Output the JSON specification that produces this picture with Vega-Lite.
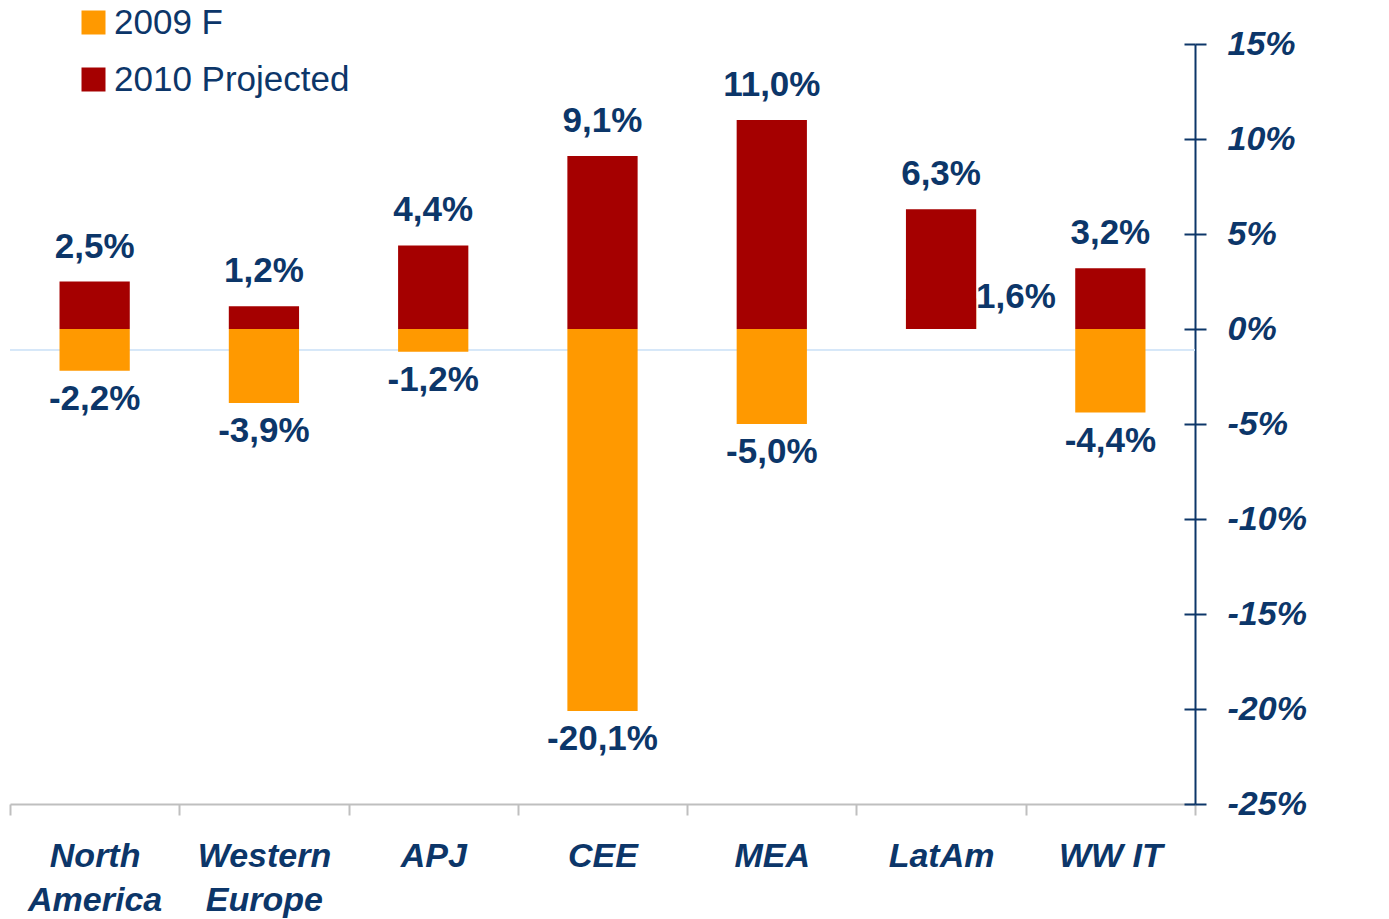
{
  "$schema": "https://vega.github.io/schema/vega-lite/v6.json",
  "autosize": {"type": "none"},
  "width": 1185,
  "height": 760,
  "padding": {"left": 10, "top": 44, "right": 194, "bottom": 115},
  "background": "white",
  "config": {
    "view": {"stroke": null},
    "font": "Liberation Sans",
    "locale": {"number": {"decimal": ",", "thousands": ".", "grouping": [3], "currency": ["", " €"], "minus": "-"}}
  },
  "data": {"values": [
    {"region": "North America", "series": "2009 F", "value": -0.022},
    {"region": "Western Europe", "series": "2009 F", "value": -0.039},
    {"region": "APJ", "series": "2009 F", "value": -0.012},
    {"region": "CEE", "series": "2009 F", "value": -0.201},
    {"region": "MEA", "series": "2009 F", "value": -0.050},
    {"region": "LatAm", "series": "2009 F", "value": 0.016},
    {"region": "WW IT", "series": "2009 F", "value": -0.044},
    {"region": "North America", "series": "2010 Projected", "value": 0.025},
    {"region": "Western Europe", "series": "2010 Projected", "value": 0.012},
    {"region": "APJ", "series": "2010 Projected", "value": 0.044},
    {"region": "CEE", "series": "2010 Projected", "value": 0.091},
    {"region": "MEA", "series": "2010 Projected", "value": 0.110},
    {"region": "LatAm", "series": "2010 Projected", "value": 0.063},
    {"region": "WW IT", "series": "2010 Projected", "value": 0.032}
  ]},
  "layer": [
    {
      "mark": {"type": "rule", "color": "#D6E7F8", "strokeWidth": 1},
      "encoding": {
        "y": {
          "datum": -0.011, "type": "quantitative",
          "axis": {
            "orient": "left", "offset": -1185, "labels": false, "domain": false, "grid": false, "title": null,
            "values": [-0.25, -0.2, -0.15, -0.1, -0.05, 0, 0.05, 0.1, 0.15],
            "tickColor": "#0E3768", "tickWidth": 2, "tickSize": 11
          }
        }
      }
    },
    {
      "mark": {"type": "bar", "width": {"band": 0.415}},
      "encoding": {
        "x": {
          "field": "region", "type": "nominal", "sort": null,
          "scale": {"paddingInner": 0, "paddingOuter": 0},
          "axis": {
            "title": null, "labelAngle": 0,
            "domainColor": "#BFBFBF", "domainWidth": 2,
            "tickColor": "#BFBFBF", "tickWidth": 2, "tickSize": 11, "tickBand": "extent",
            "labelFont": "Liberation Sans", "labelFontSize": 34, "labelFontWeight": "bold", "labelFontStyle": "italic",
            "labelColor": "#0C3669", "labelPadding": 24, "labelLineHeight": 44, "labelBaseline": "top",
            "labelExpr": "!isString(datum.value) ? '' : (datum.value == 'WW IT' ? 'WW IT' : split(datum.value, ' '))"
          }
        },
        "y": {
          "field": "value", "type": "quantitative", "stack": null,
          "scale": {"domain": [-0.25, 0.15], "nice": false},
          "axis": {
            "orient": "right", "title": null, "grid": false, "format": ".0%",
            "values": [-0.25, -0.2, -0.15, -0.1, -0.05, 0, 0.05, 0.1, 0.15],
            "domainColor": "#0C3669", "domainWidth": 2,
            "tickColor": "#0C3669", "tickWidth": 2, "tickSize": 11,
            "labelFont": "Liberation Sans", "labelFontSize": 34, "labelFontWeight": "bold", "labelFontStyle": "italic",
            "labelColor": "#0C3669", "labelPadding": 21
          }
        },
        "color": {
          "field": "series", "type": "nominal",
          "scale": {"domain": ["2009 F", "2010 Projected"], "range": ["#FF9900", "#A50000"]},
          "legend": {
            "title": null, "orient": "none", "legendX": 66, "legendY": -39,
            "symbolType": "square", "symbolSize": 576, "symbolStrokeWidth": 0,
            "labelFont": "Liberation Sans", "labelFontSize": 35, "labelColor": "#0C3669",
            "labelOffset": 3, "rowPadding": 21, "labelLimit": 0
          }
        }
      }
    },
    {
      "transform": [{"filter": "datum.series == '2010 Projected'"}],
      "mark": {"type": "text", "baseline": "alphabetic", "dy": -24, "fontSize": 35, "fontWeight": "bold", "color": "#0C3669", "font": "Liberation Sans"},
      "encoding": {
        "x": {"field": "region", "type": "nominal", "sort": null},
        "y": {"field": "value", "type": "quantitative", "axis": null},
        "text": {"field": "value", "type": "quantitative", "format": ".1%"}
      }
    },
    {
      "transform": [{"filter": "datum.value < 0"}],
      "mark": {"type": "text", "baseline": "top", "dy": 11, "fontSize": 35, "fontWeight": "bold", "color": "#0C3669", "font": "Liberation Sans"},
      "encoding": {
        "x": {"field": "region", "type": "nominal", "sort": null},
        "y": {"field": "value", "type": "quantitative", "axis": null},
        "text": {"field": "value", "type": "quantitative", "format": ".1%"}
      }
    },
    {
      "transform": [{"filter": "datum.series == '2009 F' && datum.value >= 0"}],
      "mark": {"type": "text", "baseline": "middle", "align": "left", "dx": 35, "dy": -2, "fontSize": 35, "fontWeight": "bold", "color": "#0C3669", "font": "Liberation Sans"},
      "encoding": {
        "x": {"field": "region", "type": "nominal", "sort": null},
        "y": {"field": "value", "type": "quantitative", "axis": null},
        "text": {"field": "value", "type": "quantitative", "format": ".1%"}
      }
    }
  ],
  "resolve": {"axis": {"y": "independent"}}
}
